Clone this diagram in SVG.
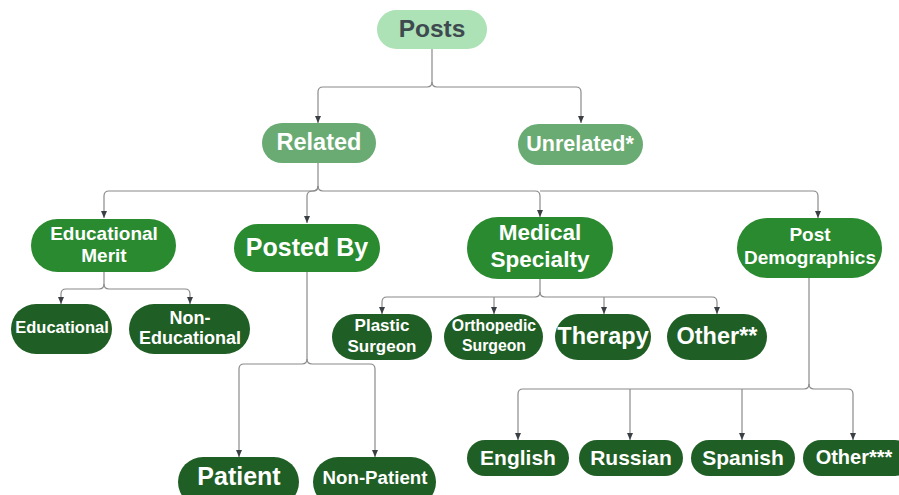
<svg xmlns="http://www.w3.org/2000/svg" width="899" height="495" viewBox="0 0 899 495">
<style>
text{font-family:"Liberation Sans",Arial,sans-serif;font-weight:bold;text-anchor:middle;fill:#fff}
.c{fill:none;stroke:#8a8a8a;stroke-width:1.2}
.l0{fill:#ade1b6}
.l1{fill:#6aab73}
.l2{fill:#2a8a2f}
.l3{fill:#1f5e24}
</style>
<defs>
<marker id="a" markerWidth="8" markerHeight="8" refX="7" refY="4" orient="auto" markerUnits="userSpaceOnUse" viewBox="0 0 8 8">
<path d="M0,1 L7,4 L0,7 Z" fill="#3a3f44"/>
</marker>
</defs>
<rect width="899" height="495" fill="#fff"/>
<g id="connectors">
<path class="c" d="M432,49 V82 Q432,87 427,87 H323 Q318,87 318,92 V123" marker-end="url(#a)"/>
<path class="c" d="M432,82 Q432,87 437,87 H576 Q581,87 581,92 V123" marker-end="url(#a)"/>
<path class="c" d="M318,163 V186 Q318,191 313,191 H109 Q104,191 104,196 V218" marker-end="url(#a)"/>
<path class="c" d="M318,186 Q318,191 313,191 Q307,191 307,196 V223" marker-end="url(#a)"/>
<path class="c" d="M318,186 Q318,191 323,191 H535 Q540,191 540,196 V217" marker-end="url(#a)"/>
<path class="c" d="M540,191 H813 Q818,191 818,196 V218" marker-end="url(#a)"/>
<path class="c" d="M104,272 V284 Q104,289 99,289 H66 Q61,289 61,294 V304" marker-end="url(#a)"/>
<path class="c" d="M104,284 Q104,289 109,289 H185 Q190,289 190,294 V304" marker-end="url(#a)"/>
<path class="c" d="M307,272 V359 Q307,364 302,364 H244 Q239,364 239,369 V457" marker-end="url(#a)"/>
<path class="c" d="M307,359 Q307,364 312,364 H370 Q375,364 375,369 V457" marker-end="url(#a)"/>
<path class="c" d="M540,279 V292 Q540,297 535,297 H387 Q382,297 382,302 V314" marker-end="url(#a)"/>
<path class="c" d="M494,297 V314" marker-end="url(#a)"/>
<path class="c" d="M540,292 Q540,297 545,297 H712 Q717,297 717,302 V314" marker-end="url(#a)"/>
<path class="c" d="M604,297 V314" marker-end="url(#a)"/>
<path class="c" d="M809,278 V384 Q809,389 804,389 H523 Q518,389 518,394 V440" marker-end="url(#a)"/>
<path class="c" d="M809,384 Q809,389 814,389 H848 Q853,389 853,394 V440" marker-end="url(#a)"/>
<path class="c" d="M630,389 V440" marker-end="url(#a)"/>
<path class="c" d="M742,389 V440" marker-end="url(#a)"/>
</g>
<g id="posts"><rect class="l0" x="377" y="10" width="110" height="39" rx="19.5"/><text x="432" y="37" font-size="24.5" style="fill:#3d4a4f">Posts</text></g>
<g id="related"><rect class="l1" x="262" y="123" width="114" height="40" rx="20"/><text x="319" y="150" font-size="23.5">Related</text></g>
<g id="unrelated"><rect class="l1" x="518" y="124" width="125" height="41" rx="20.5"/><text x="580" y="151" font-size="21.5">Unrelated*</text></g>
<g id="educational-merit"><rect class="l2" x="31" y="219" width="145" height="53" rx="26.5"/><text x="104" y="240" font-size="19">Educational</text><text x="104" y="262" font-size="19">Merit</text></g>
<g id="posted-by"><rect class="l2" x="234" y="224" width="146" height="48" rx="24"/><text x="307" y="256" font-size="25">Posted By</text></g>
<g id="medical-specialty"><rect class="l2" x="467" y="217" width="146" height="62" rx="31"/><text x="540" y="240" font-size="22.5">Medical</text><text x="540" y="267" font-size="22.5">Specialty</text></g>
<g id="post-demographics"><rect class="l2" x="737" y="218" width="145" height="60" rx="30"/><text x="810" y="241" font-size="19">Post</text><text x="810" y="264" font-size="19">Demographics</text></g>
<g id="educational"><rect class="l3" x="11" y="304" width="101" height="50" rx="25"/><text x="62" y="333" font-size="16.5">Educational</text></g>
<g id="non-educational"><rect class="l3" x="129" y="304" width="121" height="50" rx="25"/><text x="190" y="324" font-size="18">Non-</text><text x="190" y="344" font-size="18">Educational</text></g>
<g id="plastic-surgeon"><rect class="l3" x="332" y="314" width="100" height="46" rx="23"/><text x="382" y="331" font-size="17">Plastic</text><text x="382" y="352" font-size="17">Surgeon</text></g>
<g id="orthopedic-surgeon"><rect class="l3" x="444" y="314" width="99" height="46" rx="23"/><text x="494" y="331" font-size="15.8">Orthopedic</text><text x="494" y="351" font-size="15.8">Surgeon</text></g>
<g id="therapy"><rect class="l3" x="555" y="314" width="96" height="46" rx="23"/><text x="603" y="344" font-size="23.5">Therapy</text></g>
<g id="other2"><rect class="l3" x="667" y="314" width="100" height="46" rx="23"/><text x="717" y="344" font-size="23.5">Other**</text></g>
<g id="patient"><rect class="l3" x="178" y="457" width="121" height="50" rx="25"/><text x="239" y="485" font-size="25">Patient</text></g>
<g id="non-patient"><rect class="l3" x="313" y="457" width="123" height="50" rx="25"/><text x="375" y="484" font-size="18.7">Non-Patient</text></g>
<g id="english"><rect class="l3" x="467" y="440" width="102" height="36" rx="18"/><text x="518" y="465" font-size="21">English</text></g>
<g id="russian"><rect class="l3" x="579" y="440" width="104" height="36" rx="18"/><text x="631" y="465" font-size="21">Russian</text></g>
<g id="spanish"><rect class="l3" x="691" y="440" width="104" height="36" rx="18"/><text x="743" y="465" font-size="21">Spanish</text></g>
<g id="other3"><rect class="l3" x="803" y="440" width="110" height="36" rx="18"/><text x="854" y="464" font-size="20">Other***</text></g>
</svg>
